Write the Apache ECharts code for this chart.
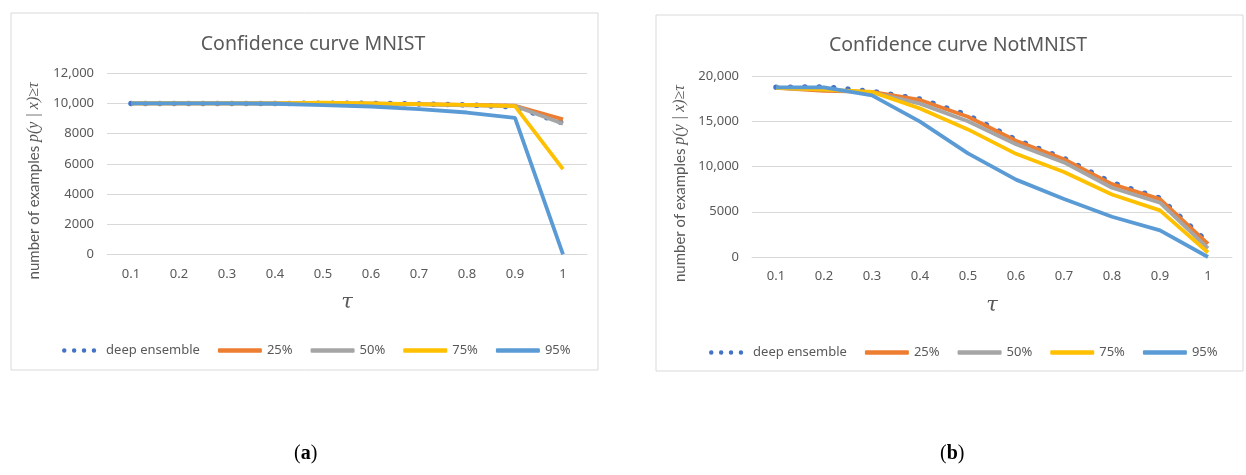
<!DOCTYPE html>
<html>
<head>
<meta charset="utf-8">
<script src="https://cdn.jsdelivr.net/npm/echarts@6/dist/echarts.min.js"></script>
<style>
  html, body { margin: 0; padding: 0; background: #fff; }
  #chart { width: 1246px; height: 475px; }
</style>
</head>
<body>
<div id="chart"></div>
<script>
const taus = ['0.1', '0.2', '0.3', '0.4', '0.5', '0.6', '0.7', '0.8', '0.9', '1']
const seriesNames = ['deep ensemble', '25%', '50%', '75%', '95%']

// MNIST
const mnistDeep = [10000, 10000, 10000, 10000, 10020, 10010, 9970, 9900, 9780, 8700]
const mnist25 = [10000, 10000, 10000, 10000, 10000, 9990, 9950, 9900, 9850, 8950]
const mnist50 = [10000, 10000, 10000, 10000, 10000, 9980, 9940, 9880, 9830, 8650]
const mnist75 = [10000, 10000, 10000, 10000, 10050, 10000, 9950, 9900, 9830, 5650]
const mnist95 = [10000, 10000, 10000, 9980, 9890, 9800, 9620, 9400, 9050, 0]

// NotMNIST
const notDeep = [18750, 18800, 18300, 17450, 15650, 12950, 10900, 8200, 6500, 1600]
const not25 = [18700, 18350, 18250, 17350, 15500, 12850, 10800, 8050, 6400, 1450]
const not50 = [18700, 18500, 18200, 16950, 15000, 12450, 10450, 7650, 6000, 950]
const not75 = [18700, 18500, 18250, 16400, 14100, 11400, 9400, 6900, 5150, 500]
const not95 = [18750, 18750, 17850, 14950, 11450, 8550, 6400, 4450, 2950, 0]

const colors = ['#4472C4', '#ED7D31', '#A5A5A5', '#FFC000', '#5B9BD5']
const textColor = '#595959'
const font = 'Noto Sans'

// 4 round dots for the "deep ensemble" legend icon
const dotsIcon = 'path://M0,2.5a2.5,2.5 0 1,0 5,0a2.5,2.5 0 1,0 -5,0z' +
  'M11,2.5a2.5,2.5 0 1,0 5,0a2.5,2.5 0 1,0 -5,0z' +
  'M22,2.5a2.5,2.5 0 1,0 5,0a2.5,2.5 0 1,0 -5,0z' +
  'M33,2.5a2.5,2.5 0 1,0 5,0a2.5,2.5 0 1,0 -5,0z'

const fmt = v => (v >= 10000 ? v.toLocaleString('en-US') : String(v))

function makeSeries(idx, data) {
  return data.map((d, i) => ({
    name: seriesNames[i],
    type: 'line',
    xAxisIndex: idx,
    yAxisIndex: idx,
    data: d,
    symbol: 'none',
    silent: true,
    lineStyle: i === 0
      ? { color: colors[0], width: 5.5, type: [0.1, 14.3], cap: 'round' }
      : { color: colors[i], width: 3.8 },
    itemStyle: { color: colors[i] },
  }))
}

const legendData = seriesNames.map((n, i) => ({
  name: n,
  icon: i === 0 ? dotsIcon : 'roundRect',
  itemStyle: { color: colors[i] },
}))

function makeLegend(left, top) {
  return {
    data: legendData, left, top,
    itemWidth: 44, itemHeight: 4.5, itemGap: 18,
    symbolKeepAspect: true,
    textStyle: { color: textColor, fontSize: 13, fontFamily: font },
  }
}

const chart = echarts.init(document.getElementById('chart'))
const option = {
  animation: false,
  textStyle: { fontFamily: font },
  graphic: [
    { type: 'rect', shape: { x: 11, y: 13, width: 587, height: 357 }, style: { fill: 'none', stroke: '#d9d9d9', lineWidth: 1 }, silent: true },
    { type: 'rect', shape: { x: 656, y: 15, width: 587, height: 356 }, style: { fill: 'none', stroke: '#d9d9d9', lineWidth: 1 }, silent: true },
    {
      type: 'text', left: 294, top: 444,
      style: {
        text: '({b|a})', fill: '#000', font: '20px "Liberation Serif"',
        rich: { b: { fontWeight: 'bold', fontSize: 20, fontFamily: 'Liberation Serif' } },
      },
    },
    {
      type: 'text', left: 940, top: 444,
      style: {
        text: '({b|b})', fill: '#000', font: '20px "Liberation Serif"',
        rich: { b: { fontWeight: 'bold', fontSize: 20, fontFamily: 'Liberation Serif' } },
      },
    },
  ],
  title: [
    { text: 'Confidence curve MNIST', left: 308, top: 29, textAlign: 'center',
      textStyle: { color: textColor, fontSize: 19.5, fontWeight: 'normal', fontFamily: font } },
    { text: 'Confidence curve NotMNIST', left: 953, top: 30, textAlign: 'center',
      textStyle: { color: textColor, fontSize: 19.5, fontWeight: 'normal', fontFamily: font } },
  ],
  legend: [makeLegend(57, 339), makeLegend(704, 341)],
  grid: [
    { left: 107, top: 73.3, width: 480, height: 181 },
    { left: 752, top: 76, width: 480, height: 181 },
  ],
  xAxis: [0, 1].map(i => ({
    type: 'category',
    gridIndex: i,
    data: taus,
    boundaryGap: true,
    name: 'τ',
    nameLocation: 'middle',
    nameGap: 38,
    nameTextStyle: { color: textColor, fontSize: 21, fontStyle: 'italic', fontFamily: 'DejaVu Serif' },
    axisLine: { lineStyle: { color: '#d9d9d9' } },
    axisTick: { show: false },
    axisLabel: { color: textColor, fontSize: 13, margin: 13 },
  })),
  yAxis: [
    { max: 12000, interval: 2000, nameGap: 65 },
    { max: 20000, interval: 5000, nameGap: 64 },
  ].map((a, i) => ({
    type: 'value',
    gridIndex: i,
    min: 0,
    max: a.max,
    interval: a.interval,
    name: '{a|number of examples }{m|p(y | x)≥τ}',
    nameLocation: 'middle',
    nameGap: a.nameGap,
    nameTextStyle: {
      color: textColor,
      padding: [0, 34, 0, 0],
      rich: {
        a: { color: textColor, fontSize: 15, fontFamily: 'Lato' },
        m: { color: textColor, fontSize: 16, fontFamily: 'Liberation Serif', fontStyle: 'italic' },
      },
    },
    axisLine: { show: false },
    axisTick: { show: false },
    splitLine: { lineStyle: { color: '#d9d9d9' } },
    axisLabel: { color: textColor, fontSize: 13, margin: 13, formatter: fmt },
  })),
  series: [
    ...makeSeries(0, [mnistDeep, mnist25, mnist50, mnist75, mnist95]),
    ...makeSeries(1, [notDeep, not25, not50, not75, not95]),
  ],
}
chart.setOption(option)
</script>
</body>
</html>
